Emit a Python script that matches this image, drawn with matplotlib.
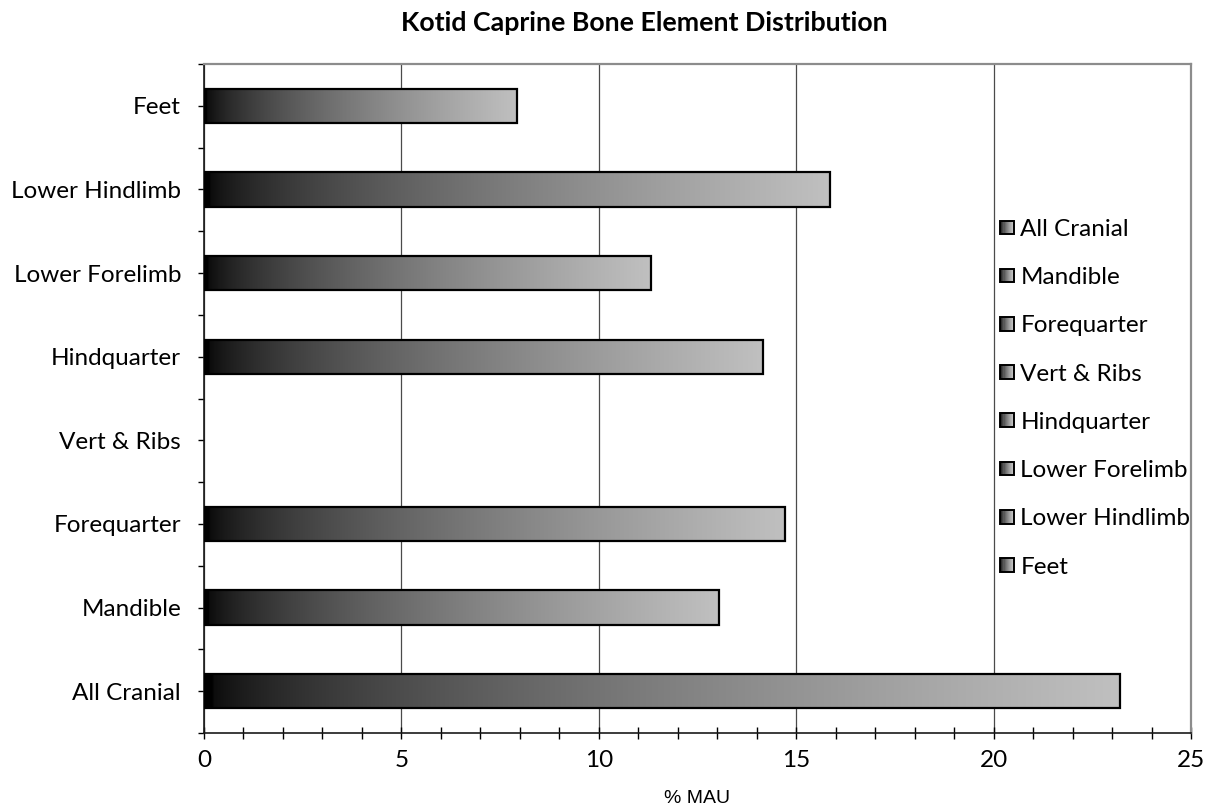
import numpy as np
import matplotlib
matplotlib.use("Agg")
import matplotlib.pyplot as plt
from matplotlib.patches import Rectangle
from matplotlib.legend_handler import HandlerBase
from matplotlib.ticker import MultipleLocator

# Skeletal element categories (bottom to top) and % MAU values
categories = ["All Cranial", "Mandible", "Forequarter", "Vert & Ribs",
              "Hindquarter", "Lower Forelimb", "Lower Hindlimb", "Feet"]
mau_pct = [23.2, 13.04, 14.72, 0.0, 14.15, 11.32, 15.85, 7.94]
x_ticks = [0, 5, 10, 15, 20, 25]

FONT = ["Lato", "DejaVu Sans"]
plt.rcParams["font.family"] = FONT
LABEL_SIZE = 17.5


def gradient_colors(n):
    t = np.linspace(0, 1, n)
    v = (192 / 255) * t ** 0.6
    v[: max(1, n // 100)] = 0.0
    return np.stack([v, v, v], axis=-1)


class HandlerGradientSquare(HandlerBase):
    def create_artists(self, legend, orig_handle, xdescent, ydescent,
                       width, height, fontsize, trans):
        side = min(width, height)
        x0, y0 = -xdescent, -ydescent + (height - side) / 2
        n = 12
        cols = gradient_colors(n)
        arts = []
        for i in range(n):
            r = Rectangle((x0 + side * i / n, y0), side / n + 0.3, side,
                          facecolor=cols[i], edgecolor="none", transform=trans)
            arts.append(r)
        arts.append(Rectangle((x0, y0), side, side, facecolor="none",
                              edgecolor="black", lw=1.4, transform=trans))
        return arts


fig = plt.figure(figsize=(12.11, 8.07), dpi=100)
ax = fig.add_axes([204 / 1211, 1 - 733 / 807, 987 / 1211, 669 / 807])

ypos = np.arange(len(categories))
bar_h = 0.41
bars = ax.barh(ypos, mau_pct, height=bar_h, facecolor="none",
               edgecolor="black", linewidth=1.6, zorder=4)

grad = gradient_colors(400)[np.newaxis, :, :]
for bar, val in zip(bars, mau_pct):
    if val <= 0:
        bar.set_visible(False)
        continue
    x0, y0 = bar.get_x(), bar.get_y()
    im = ax.imshow(grad, extent=[x0, x0 + bar.get_width(), y0, y0 + bar.get_height()],
                   aspect="auto", interpolation="bilinear", zorder=3)
    im.set_clip_path(bar)

ax.set_xlim(0, 25)
ax.set_ylim(-0.5, len(categories) - 0.5)
ax.set_aspect("auto")

# x axis: gridlines at major ticks, crossing ticks
ax.set_xticks(x_ticks)
ax.xaxis.set_minor_locator(MultipleLocator(1))
ax.tick_params(axis="x", which="both", direction="inout", length=8.5,
               width=1.0, color="black", labelsize=LABEL_SIZE, pad=8)
ax.grid(axis="x", which="major", color="#4a4a4a", linewidth=0.9, zorder=1)
ax.set_axisbelow(True)

# y axis: labels at category centres, ticks at centres and boundaries
ax.set_yticks(ypos)
ax.set_yticklabels(categories)
ax.set_yticks(np.arange(-0.5, len(categories), 1.0), minor=True)
ax.tick_params(axis="y", which="both", direction="out", length=4.5,
               width=1.0, color="black", labelsize=LABEL_SIZE, pad=12)

for side in ("top", "right"):
    ax.spines[side].set_color("#8c8c8c")
    ax.spines[side].set_linewidth(1.6)
for side in ("left", "bottom"):
    ax.spines[side].set_color("#1a1a1a")
    ax.spines[side].set_linewidth(1.2)

ax.set_xlabel("% MAU", family=["Liberation Sans", "DejaVu Sans"],
              fontsize=14, labelpad=14)

fig.text(644 / 1211, 1 - 23 / 807, "Kotid Caprine Bone Element Distribution",
         ha="center", va="center", fontsize=19.3, fontweight="bold")

handles = [Rectangle((0, 0), 1, 1) for _ in categories]
leg = fig.legend(handles, categories, loc="upper left",
                 bbox_to_anchor=(1000 / 1211, 1 - 219 / 807),
                 bbox_transform=fig.transFigure, frameon=False,
                 fontsize=LABEL_SIZE, borderpad=0, borderaxespad=0,
                 handlelength=0.56, handleheight=0.56, handletextpad=0.28,
                 labelspacing=1.12,
                 handler_map={Rectangle: HandlerGradientSquare()})

fig.savefig("out.png", dpi=100)
